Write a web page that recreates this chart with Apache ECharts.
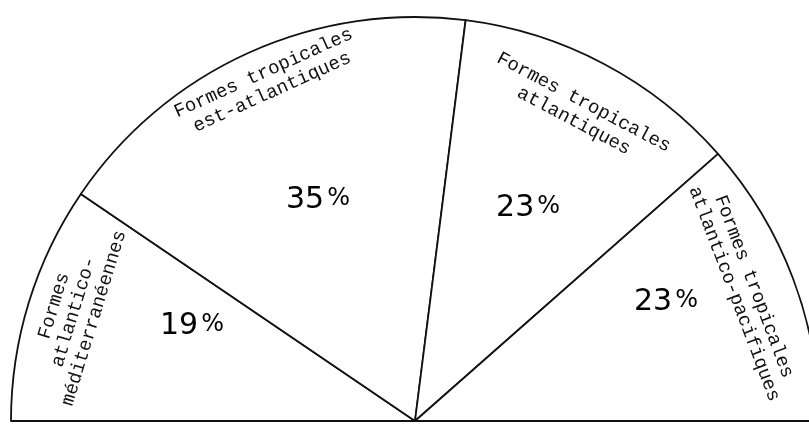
<!DOCTYPE html>
<html>
<head>
<meta charset="utf-8">
<script src="https://cdn.jsdelivr.net/npm/echarts@6/dist/echarts.min.js"></script>
<style>
  html, body { margin: 0; padding: 0; background: #fff; }
  #chart { width: 809px; height: 424px; }
</style>
</head>
<body>
<div id="chart"></div>
<script>
// ---- data ----
const categories = [
  'Formes\natlantico-\nméditerranéennes',
  'Formes tropicales\nest-atlantiques',
  'Formes tropicales\natlantiques',
  'Formes tropicales\natlantico-pacifiques'
];
const values = [19, 35, 23, 23];

// ---- layout nudges (label offsets, px) ----
const pctNudge = [[14, -22], [5, 5], [-3, 6], [19, -31]];
const catNudge = [[4, 0], [5, -11], [0, 8], [-6, 4]];

const center = [415, 421];
const data = categories.map((c, i) => ({ name: c, value: values[i] }));

const chart = echarts.init(document.getElementById('chart'), null, { renderer: 'canvas' });
chart.setOption({
  backgroundColor: '#ffffff',
  animation: false,
  series: [
    {
      type: 'pie',
      center: center,
      radius: [0, 404],
      startAngle: 180,
      endAngle: 0,
      clockwise: true,
      avoidLabelOverlap: false,
      silent: true,
      itemStyle: { color: '#ffffff', borderColor: '#111', borderWidth: 1.8 },
      label: { show: false },
      labelLine: { show: false },
      data: data
    },
    {
      type: 'pie',
      center: center,
      radius: [90, 400],
      startAngle: 180,
      endAngle: 0,
      clockwise: true,
      avoidLabelOverlap: false,
      silent: true,
      itemStyle: { color: 'rgba(0,0,0,0)', borderWidth: 0 },
      label: {
        show: true,
        position: 'inside',
        formatter: p => '{v|' + p.value + '}{p|%}',
        rich: {
          v: { fontFamily: 'DejaVu Sans', fontSize: 30, color: '#000' },
          p: { fontFamily: 'DejaVu Sans', fontSize: 24, color: '#000', padding: [0, 0, 3, 3] }
        }
      },
      labelLine: { show: false },
      labelLayout: p => ({ dx: pctNudge[p.dataIndex][0], dy: pctNudge[p.dataIndex][1] }),
      data: data
    },
    {
      type: 'pie',
      center: center,
      radius: [310, 400],
      startAngle: 180,
      endAngle: 0,
      clockwise: true,
      avoidLabelOverlap: false,
      silent: true,
      itemStyle: { color: 'rgba(0,0,0,0)', borderWidth: 0 },
      label: {
        show: true,
        position: 'inside',
        rotate: 'tangential',
        formatter: p => p.name,
        fontFamily: 'Liberation Mono',
        fontSize: 19,
        lineHeight: 21,
        color: '#111',
        align: 'center'
      },
      labelLine: { show: false },
      labelLayout: p => ({ dx: catNudge[p.dataIndex][0], dy: catNudge[p.dataIndex][1] }),
      data: data
    }
  ]
});
</script>
</body>
</html>
